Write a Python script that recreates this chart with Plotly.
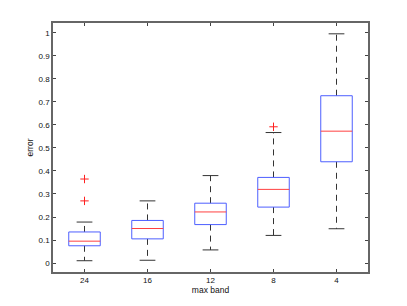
import plotly.graph_objects as go

categories = ["24", "16", "12", "8", "4"]
lower_whisker = [0.010, 0.012, 0.057, 0.120, 0.149]
q1 = [0.075, 0.105, 0.167, 0.243, 0.440]
median = [0.095, 0.150, 0.222, 0.320, 0.573]
q3 = [0.135, 0.185, 0.260, 0.372, 0.727]
upper_whisker = [0.178, 0.270, 0.380, 0.567, 0.996]
outlier_cat = ["24", "24", "8"]
outlier_val = [0.270, 0.365, 0.592]

pos = {c: i + 1 for i, c in enumerate(categories)}
hw = 0.25   # half box width
cw = 0.125  # half cap width

bx, by, mx, my, wx, wy, cx, cy = [], [], [], [], [], [], [], []
for i, c in enumerate(categories):
    p = pos[c]
    bx += [p - hw, p + hw, p + hw, p - hw, p - hw, None]
    by += [q1[i], q1[i], q3[i], q3[i], q1[i], None]
    mx += [p - hw, p + hw, None]
    my += [median[i], median[i], None]
    wx += [p, p, None, p, p, None]
    wy += [q3[i], upper_whisker[i], None, q1[i], lower_whisker[i], None]
    cx += [p - cw, p + cw, None, p - cw, p + cw, None]
    cy += [upper_whisker[i], upper_whisker[i], None, lower_whisker[i], lower_whisker[i], None]

fig = go.Figure()
fig.add_trace(go.Scatter(x=wx, y=wy, mode="lines", line=dict(color="#333333", width=1, dash="6px,5px"), hoverinfo="skip"))
fig.add_trace(go.Scatter(x=cx, y=cy, mode="lines", line=dict(color="#333333", width=1), hoverinfo="skip"))
fig.add_trace(go.Scatter(x=bx, y=by, mode="lines", line=dict(color="#4d5fff", width=1), hoverinfo="skip"))
fig.add_trace(go.Scatter(x=mx, y=my, mode="lines", line=dict(color="#ff4040", width=1), hoverinfo="skip"))
fig.add_trace(go.Scatter(x=[pos[c] for c in outlier_cat], y=outlier_val, mode="markers",
                         marker=dict(symbol="cross-thin", size=6, line=dict(color="#ff2020", width=1)), hoverinfo="skip"))

axis_common = dict(showgrid=False, zeroline=False, showline=True, linecolor="#666666", linewidth=1.5,
                   mirror="allticks", ticks="inside", ticklen=3, tickcolor="#444444", tickwidth=1,
                   tickfont=dict(family="Liberation Sans, Arial", size=8, color="#111111"))
fig.update_layout(
    width=407, height=306,
    margin=dict(l=45, r=47, t=15, b=42),
    paper_bgcolor="white", plot_bgcolor="white",
    showlegend=False,
    font=dict(family="Liberation Sans, Arial", size=8, color="#111111"),
    xaxis=dict(range=[0.5, 5.5], tickvals=[pos[c] for c in categories], ticktext=categories,
               title=dict(text="max band", font=dict(size=8.5), standoff=2), **axis_common),
    yaxis=dict(range=[-0.039, 1.043], tickvals=[i / 10 for i in range(11)],
               ticktext=["0", "0.1", "0.2", "0.3", "0.4", "0.5", "0.6", "0.7", "0.8", "0.9", "1"],
               title=dict(text="error", font=dict(size=8.5), standoff=4), **axis_common),
)
fig.write_html("out.html")
